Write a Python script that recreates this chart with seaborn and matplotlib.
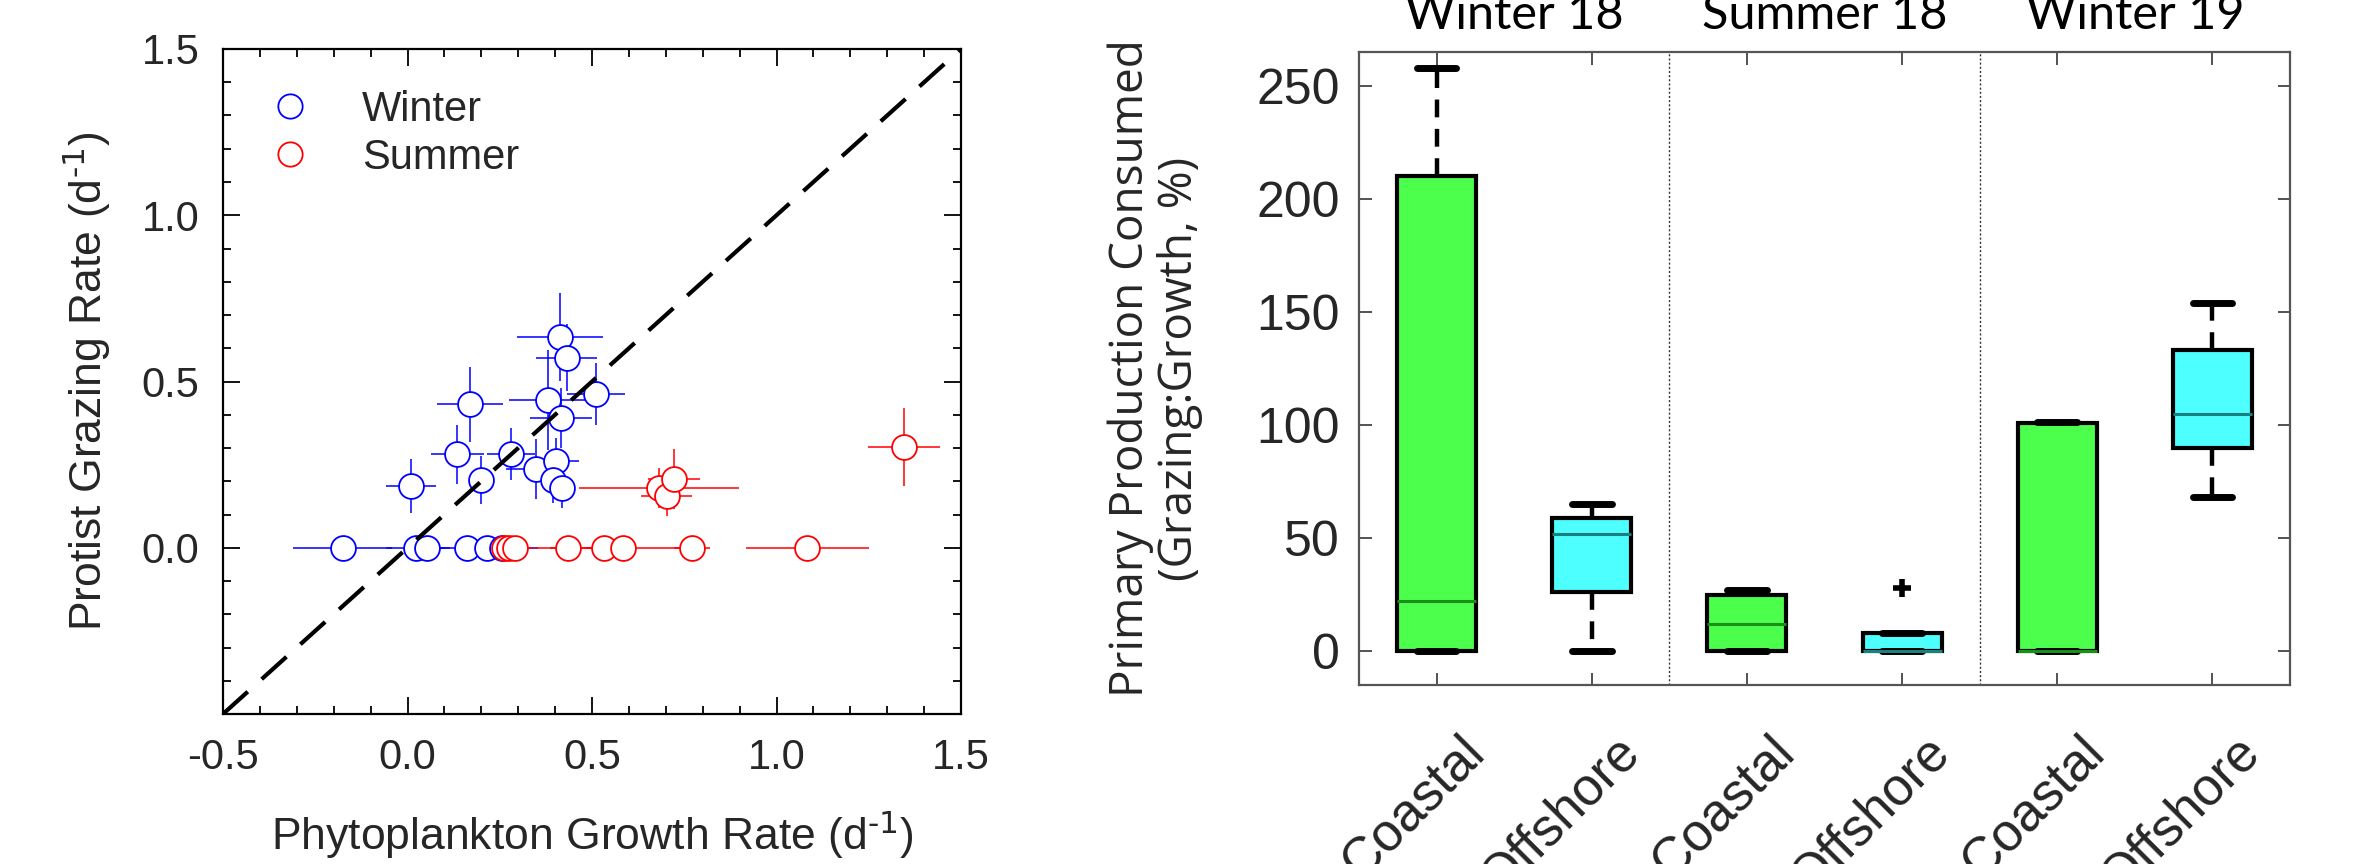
import numpy as np
import pandas as pd
import matplotlib
matplotlib.use("Agg")
import matplotlib.pyplot as plt
import matplotlib.transforms as mtrans
from matplotlib.ticker import MultipleLocator
from matplotlib.lines import Line2D
import seaborn as sns

# ---------------- data: left panel (rates, d^-1) ----------------
winter_growth = [-0.176, 0.022, 0.054, 0.162, 0.216, 0.255,
                 0.009, 0.169, 0.135, 0.200, 0.280, 0.347, 0.402, 0.395,
                 0.418, 0.380, 0.415, 0.413, 0.431, 0.511]
winter_grazing = [0, 0, 0, 0, 0, 0,
                  0.186, 0.432, 0.281, 0.204, 0.282, 0.237, 0.261, 0.204,
                  0.181, 0.444, 0.391, 0.633, 0.572, 0.462]
winter_growth_err = [0.135, 0.08, 0.06, 0.09, 0.06, 0.10,
                     0.067, 0.089, 0.072, 0.03, 0.065, 0.08, 0.063, 0.03,
                     0.03, 0.106, 0.084, 0.117, 0.083, 0.079]
winter_grazing_err = [0, 0, 0, 0, 0, 0,
                      0.08, 0.113, 0.088, 0.073, 0.078, 0.09, 0.068, 0.07,
                      0.06, 0.15, 0.09, 0.132, 0.10, 0.093]

summer_growth = [0.262, 0.275, 0.290, 0.435, 0.533, 0.585, 0.771, 1.083,
                 0.682, 0.702, 0.722, 1.345]
summer_grazing = [0, 0, 0, 0, 0, 0, 0, 0,
                  0.180, 0.155, 0.207, 0.304]
summer_growth_err = [0.06, 0.05, 0.05, 0.09, 0.05, 0.20, 0.05, 0.167,
                     0.217, 0.07, 0.07, 0.097]
summer_grazing_err = [0, 0, 0, 0, 0, 0, 0, 0,
                      0.06, 0.06, 0.09, 0.117]

season_labels = ["Winter", "Summer"]
season_colors = ["#0000FF", "#FF0000"]

# ---------------- data: right panel (% consumed) ----------------
cruises = ["Winter 18", "Summer 18", "Winter 19"]
sites = ["Coastal", "Offshore"]
w18_coastal = [0, 0, 22, 210, 258]
w18_offshore = [0, 26, 52, 59, 65]
s18_coastal = [0, 0, 12, 25, 27]
s18_offshore = [0, 0, 0, 8, 28]
w19_coastal = [0, 0, 0, 101, 101.5]
w19_offshore = [68, 90, 105, 133, 154]
box_values = [w18_coastal, w18_offshore, s18_coastal, s18_offshore,
              w19_coastal, w19_offshore]
site_fill = {"Coastal": "#4CFF4C", "Offshore": "#4DFFFF"}
site_median = {"Coastal": "#1A8F1A", "Offshore": "#1A8080"}

# ---------------- figure ----------------
sns.set_style("ticks")
plt.rcParams["font.family"] = ["Liberation Sans", "DejaVu Sans"]
plt.rcParams["mathtext.default"] = "regular"

W, H = 2358, 864
fig = plt.figure(figsize=(W / 100, H / 100), dpi=100)

def px_axes(x0, y0, x1, y1):
    return fig.add_axes([x0 / W, 1 - y1 / H, (x1 - x0) / W, (y1 - y0) / H])

# ======== left panel ========
ax1 = px_axes(223, 49, 961, 714)
for g, gz, ge, gze, col in [
        (winter_growth, winter_grazing, winter_growth_err, winter_grazing_err, season_colors[0]),
        (summer_growth, summer_grazing, summer_growth_err, summer_grazing_err, season_colors[1])]:
    ax1.errorbar(g, gz, xerr=ge, yerr=gze, fmt="none", ecolor=col,
                 elinewidth=1.1, capsize=0, zorder=2)

df_sc = pd.DataFrame({
    "growth": winter_growth + summer_growth,
    "grazing": winter_grazing + summer_grazing,
    "season": [season_labels[0]] * len(winter_growth) + [season_labels[1]] * len(summer_growth),
})
for lab, col in zip(season_labels, season_colors):
    sns.scatterplot(data=df_sc[df_sc.season == lab], x="growth", y="grazing",
                    marker="o", s=320, facecolor="white", edgecolor=col,
                    linewidth=1.3, ax=ax1, zorder=3, legend=False)

ax1.axline((0, 0), slope=1, color="black", lw=3, dashes=(8, 4.5), zorder=4)

ax1.set_xlim(-0.5, 1.5)
ax1.set_ylim(-0.5, 1.5)
ax1.xaxis.set_minor_locator(MultipleLocator(0.1))
ax1.yaxis.set_minor_locator(MultipleLocator(0.1))
ax1.set_xticks([-0.5, 0.0, 0.5, 1.0, 1.5])
ax1.set_xticklabels(["-0.5", "0.0", "0.5", "1.0", "1.5"])
ax1.set_yticks([0.0, 0.5, 1.0, 1.5])
ax1.set_yticklabels(["0.0", "0.5", "1.0", "1.5"])
ax1.tick_params(which="both", direction="in", top=True, right=True,
                color="black", width=1.3)
ax1.tick_params(which="major", length=12, labelsize=30, pad=17)
ax1.tick_params(which="minor", length=6)
for sp in ax1.spines.values():
    sp.set_linewidth(1.6)
    sp.set_color("black")

sup = r"$^{\text{-1}}$"
ax1.set_xlabel("Phytoplankton Growth Rate (d" + sup + ")", fontsize=32, va="center")
ax1.set_ylabel("Protist Grazing Rate (d" + sup + ")", fontsize=32, va="center")
ax1.xaxis.set_label_coords(0.5, -0.182)
ax1.yaxis.set_label_coords(-0.185, 0.5)

handles = [Line2D([], [], linestyle="none", marker="o", markersize=17.5,
                  markerfacecolor="white", markeredgecolor=c, markeredgewidth=1.3)
           for c in season_colors]
ax1.legend(handles, season_labels, loc="upper left", bbox_to_anchor=(0.062, 0.939),
           frameon=False, fontsize=30, handlelength=1.0, handletextpad=1.23,
           labelspacing=0.2, borderpad=0, borderaxespad=0)

# ======== right panel ========
ax2 = px_axes(1359, 52, 2290, 685)
box_order = [f"{c} {s}" for c in cruises for s in sites]
rows = []
for name, vals in zip(box_order, box_values):
    site = name.split(" ")[-1]
    for v in vals:
        rows.append({"box": name, "site": site, "value": v})
df_box = pd.DataFrame(rows)

for site in sites:
    sub = df_box[df_box.site == site]
    sns.boxplot(data=sub, x="box", y="value", order=box_order,
                color=site_fill[site], saturation=1, width=0.51,
                linewidth=3.0, linecolor="black", whis=1.5,
                medianprops=dict(color=site_median[site], linewidth=2.2),
                whiskerprops=dict(linestyle=(0, (4, 2.6)), linewidth=3.2),
                capprops=dict(linewidth=5),
                flierprops=dict(marker="+", markersize=13, markeredgewidth=4,
                                markeredgecolor="black"),
                ax=ax2)

for i in range(1, len(cruises)):
    ax2.axvline(2 * i - 0.5, color="#333333", lw=1.0, ls=(0, (1.5, 1.5)), zorder=0)

blend = mtrans.blended_transform_factory(ax2.transData, ax2.transAxes)
for j, c in enumerate(cruises):
    ax2.text(2 * j + 0.5, 1.036, c, transform=blend, ha="center", va="baseline",
             fontsize=35, family=["Lato", "DejaVu Sans"], color="black")

ax2.set_xlim(-0.5, len(box_order) - 0.5)
ax2.set_ylim(-15, 265)
ax2.set_yticks([0, 50, 100, 150, 200, 250])
ax2.set_yticklabels(["0", "50", "100", "150", "200", "250"])
ax2.set_xticks(range(len(box_order)))
ax2.set_xticklabels([s for c in cruises for s in sites], rotation=45,
                    ha="right", va="top", rotation_mode="anchor")
ax2.tick_params(which="both", direction="in", top=True, right=True,
                color="#444444", width=1.3, length=9, labelcolor="#262626")
ax2.tick_params(axis="y", labelsize=36, pad=14)
ax2.tick_params(axis="x", labelsize=38, pad=30)
offset = mtrans.ScaledTranslation(0.22, 0, fig.dpi_scale_trans)
for lab in ax2.get_xticklabels():
    lab.set_transform(lab.get_transform() + offset)
for sp in ax2.spines.values():
    sp.set_linewidth(1.6)
    sp.set_color("#555555")
ax2.set_xlabel("")
ax2.set_ylabel("Primary Production Consumed\n(Grazing:Growth, %)", fontsize=33,
               family=["Open Sans", "DejaVu Sans"], va="center", linespacing=1.1)
ax2.yaxis.set_label_coords(-0.219, 0.5)

fig.savefig("out.png", dpi=100)
